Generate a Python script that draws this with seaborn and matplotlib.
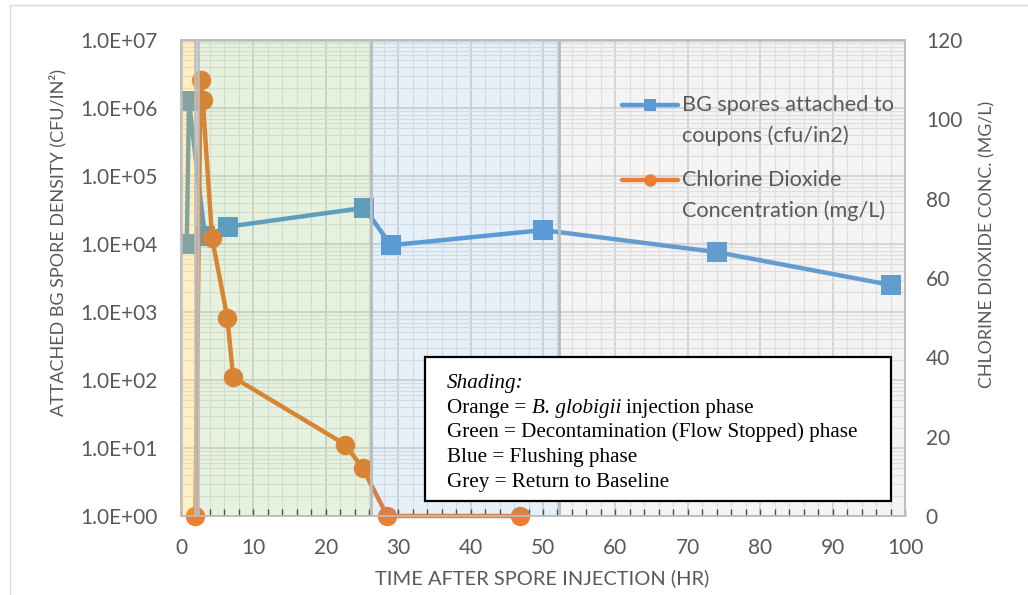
import matplotlib
matplotlib.use("Agg")
import matplotlib.pyplot as plt
import pandas as pd
import seaborn as sns
from matplotlib.colors import to_rgba
from matplotlib.lines import Line2D
from matplotlib.patches import Rectangle
from matplotlib.text import Annotation
from matplotlib.ticker import FuncFormatter, LogLocator, MultipleLocator, NullFormatter

# Attached spore density (left axis, log scale)
spore_hours = [0.8, 1.1, 3.3, 6.5, 25.3, 29.0, 50.0, 74.0, 98.0]
spore_density = [1.0e4, 1.25e6, 1.3e4, 1.8e4, 3.4e4, 9.6e3, 1.6e4, 7.6e3, 2.5e3]

# Chlorine dioxide concentration (right axis)
clo2_hours = [2.0, 2.7, 3.0, 4.3, 6.4, 7.2, 22.7, 25.1, 28.5, 46.8]
clo2_conc = [0, 110, 105, 70, 50, 35, 18, 12, 0, 0]

# Experiment phases shown as shaded bands
phase_start = [0.0, 2.4, 26.3, 52.2]
phase_end = [1.9, 26.3, 52.2, 100.0]
phase_colors = ["#FFC000", "#70AD47", "#5B9BD5", "#A5A5A5"]
phase_alpha = [0.24, 0.17, 0.15, 0.12]

x_ticks = list(range(0, 101, 10))
right_ticks = list(range(0, 121, 20))

series_labels = ["BG spores attached to\ncoupons (cfu/in2)",
                 "Chlorine Dioxide\nConcentration (mg/L)"]

BLUE = "#5B9BD5"
ORANGE = "#ED7D31"
TXT = "#595959"

sns.set_theme(style="white")
plt.rcParams["font.family"] = ["Lato", "DejaVu Sans"]

W, H = 1028, 595
fig = plt.figure(figsize=(W / 100, H / 100), dpi=100)


def fx(px):
    return px / W


def fy(py):
    return 1 - py / H


ax = fig.add_axes([fx(181), fy(516), fx(905) - fx(181), fy(40) - fy(516)])

spores = pd.DataFrame({"hours": spore_hours, "density": spore_density})
clo2 = pd.DataFrame({"hours": clo2_hours, "conc": clo2_conc})

sns.lineplot(data=spores, x="hours", y="density", ax=ax, color=BLUE, lw=3.2,
             marker="s", markersize=14, markeredgewidth=0, sort=False,
             estimator=None, legend=False, zorder=2)
ax.set_yscale("log")
ax.set_ylim(1, 1e7)
ax.set_xlim(0, 100)
ax.set_xticks(x_ticks)
ax.xaxis.set_minor_locator(MultipleLocator(2))
ax.yaxis.set_major_locator(LogLocator(base=10, numticks=10))
ax.yaxis.set_minor_locator(LogLocator(base=10, subs=range(2, 10), numticks=100))
ax.yaxis.set_minor_formatter(NullFormatter())
ax.yaxis.set_major_formatter(FuncFormatter(lambda v, p: f"{v:.1E}"))
ax.grid(which="major", color="#D2D2D2", lw=1.1)
ax.grid(which="minor", color="#E6E6E6", lw=0.8)
ax.set_axisbelow(True)
ax.set_xlabel("")
ax.set_ylabel("")
ax.tick_params(axis="y", which="both", length=0, pad=17, labelsize=15,
               labelcolor=TXT)
ax.tick_params(axis="x", which="both", direction="in", length=5, width=1,
               color="#404040", bottom=True, pad=16, labelsize=15,
               labelcolor=TXT)

ax2 = ax.twinx()
sns.lineplot(data=clo2, x="hours", y="conc", ax=ax2, color=ORANGE, lw=3.2,
             marker="o", markersize=14, markeredgewidth=0, sort=False,
             estimator=None, legend=False, zorder=2, clip_on=False)
ax2.set_ylim(0, 120)
ax2.set_yticks(right_ticks)
ax2.set_ylabel("")
ax2.tick_params(axis="y", length=0, pad=15, labelsize=15, labelcolor=TXT)
ax2.grid(False)

for a in (ax, ax2):
    for sp in a.spines.values():
        sp.set_color("#BFBFBF")
        sp.set_linewidth(1.2)

# Phase bands laid over the series
for s, e, c, al in zip(phase_start, phase_end, phase_colors, phase_alpha):
    ax2.add_patch(Rectangle((s, 0), e - s, 1,
                            transform=ax2.get_xaxis_transform(),
                            facecolor=to_rgba(c, al), edgecolor="#BDBDBD",
                            lw=1.8, zorder=3))

# Series key: marker line beside the first line of each two-line label
key_rows = [(105, BLUE, "s"), (180, ORANGE, "o")]
for (ky, col, mk), label in zip(key_rows, series_labels):
    fig.add_artist(Line2D([fx(622), fx(678)], [fy(ky), fy(ky)], color=col,
                          lw=3.2, transform=fig.transFigure, zorder=6))
    fig.add_artist(Line2D([fx(650)], [fy(ky)], color=col, marker=mk,
                          markersize=9, markeredgewidth=0, lw=0,
                          transform=fig.transFigure, zorder=6))
    fig.text(fx(682), fy(ky - 10), label, ha="left", va="top", color=TXT,
             fontsize=15.6, linespacing=1.6, zorder=6)

# Axis titles
fig.text(fx(58), fy(242), "ATTACHED BG SPORE DENSITY (CFU/IN²)", rotation=90,
         ha="center", va="center", color=TXT, fontsize=13)
fig.text(fx(987), fy(244), "CHLORINE DIOXIDE CONC. (MG/L)", rotation=90,
         ha="center", va="center", color=TXT, fontsize=12.8)
fig.text(fx(542), fy(578), "TIME AFTER SPORE INJECTION (HR)",
         ha="center", va="center", color=TXT, fontsize=14.4)

# Shading key
fig.add_artist(Rectangle((fx(425), fy(501)), fx(891) - fx(425), fy(357) - fy(501),
                         transform=fig.transFigure, facecolor="white",
                         edgecolor="black", lw=1.6, zorder=7))
serif = dict(family=["Liberation Serif", "DejaVu Serif"], fontsize=15.2,
             color="black", zorder=8)
gap = 3.8
fig.text(fx(447), fy(388), "Shading:", style="italic", va="baseline", **serif)
t1 = fig.text(fx(447), fy(413), "Orange =", va="baseline", **serif)
t2 = fig.add_artist(Annotation("B. globigii", xy=(1, 0), xycoords=t1,
                               xytext=(gap, 0), textcoords="offset points",
                               va="bottom", ha="left", style="italic", **serif))
fig.add_artist(Annotation("injection phase", xy=(1, 0), xycoords=t2,
                          xytext=(gap, 0), textcoords="offset points",
                          va="bottom", ha="left", **serif))
fig.text(fx(447), fy(437), "Green = Decontamination (Flow Stopped) phase",
         va="baseline", **serif)
fig.text(fx(447), fy(462), "Blue = Flushing phase", va="baseline", **serif)
fig.text(fx(447), fy(487), "Grey = Return to Baseline", va="baseline", **serif)

# Light outer frame
fig.add_artist(Rectangle((fx(10), fy(640)), 1.2, fy(5) - fy(640),
                         transform=fig.transFigure, fill=False,
                         edgecolor="#D9D9D9", lw=1))

fig.savefig("out.png", dpi=100)
